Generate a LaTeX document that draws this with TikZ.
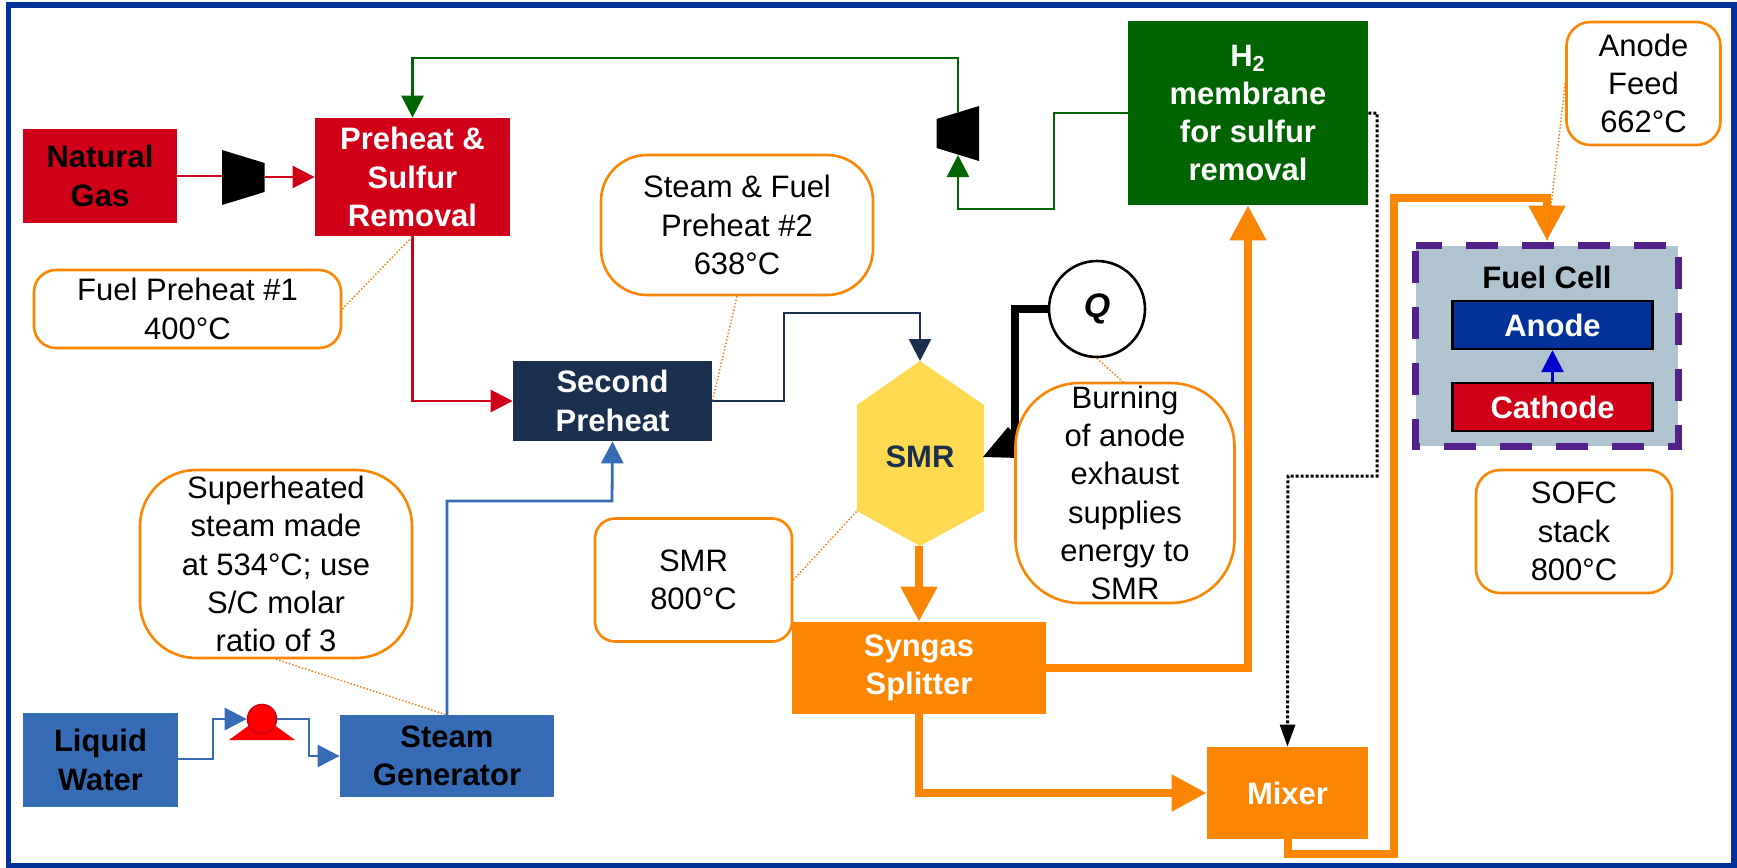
\documentclass[tikz,border=0pt]{standalone}
\usepackage{fontspec}
\setmainfont{Liberation Sans}
\usetikzlibrary{arrows.meta}

\definecolor{framecol}{HTML}{03339A}
\definecolor{redcol}{HTML}{D00019}
\definecolor{greencol}{HTML}{006400}
\definecolor{navycol}{HTML}{1B2F4E}
\definecolor{bluecol}{HTML}{366CB5}
\definecolor{orangecol}{HTML}{FB8604}
\definecolor{yellowcol}{HTML}{FFD94F}
\definecolor{greycol}{HTML}{B0C3D1}
\definecolor{purplecol}{HTML}{54208A}

\tikzset{
    txt/.style={font=\fontsize{15.5}{19.1}\selectfont, align=center, inner sep=0pt},
    unit/.style={txt, font=\fontsize{15.5}{19.1}\selectfont\bfseries, rectangle},
    note/.style={txt, rectangle, rounded corners=#1, draw=orangecol, line width=1.3pt, fill=white, execute at begin node={\rule{0pt}{13.5pt}}},
    note/.default=10pt,
    leader/.style={draw=orangecol!85!red, line width=0.7pt, densely dotted},
    flow/.style={line width=1.4pt, -{Triangle[length=11pt,width=11pt]}},
    thickflow/.style={draw=orangecol, line width=4pt, -{Triangle[length=17.5pt,width=17.5pt]}}
}

\begin{document}
\begin{tikzpicture}[x=0.5pt,y=-0.5pt]
    \useasboundingbox (0,0) rectangle (1737,868);
    \draw[framecol, line width=2.8pt] (8.5,5) rectangle (1734,866);

    % Process units
    \node[unit, fill=redcol, minimum width=77pt, minimum height=47pt] (gas) at (100,176) {Natural\\Gas};
    \node[unit, fill=redcol, text=white, minimum width=97.5pt, minimum height=59pt] (preheat) at (412.5,177) {Preheat \&\\Sulfur\\Removal};
    \node[unit, fill=navycol, text=white, minimum width=99.5pt, minimum height=40pt] (second) at (612.5,401) {Second\\Preheat};
    \node[unit, fill=greencol, text=white, minimum width=120pt, minimum height=92pt] (membrane) at (1248,113) {H\textsubscript{2}\\membrane\\for sulfur\\removal};
    \node[unit, fill=orangecol, text=white, minimum width=127pt, minimum height=46pt] (splitter) at (919,668) {Syngas\\Splitter};
    \node[unit, fill=orangecol, text=white, minimum width=80.5pt, minimum height=46pt] (mixer) at (1287.5,793) {Mixer};
    \node[unit, fill=bluecol, minimum width=77.5pt, minimum height=47pt] (water) at (100.5,760) {Liquid\\Water};
    \node[unit, fill=bluecol, minimum width=107pt, minimum height=41pt] (generator) at (447,756) {Steam\\Generator};

    % SMR
    \fill[yellowcol] (920,361) -- (984,405) -- (984,511) -- (920,546) -- (857,511) -- (857,405) -- cycle;
    \node[txt, font=\fontsize{15.5}{19.1}\selectfont\bfseries, text=navycol] (smr) at (920,457) {SMR};
    \coordinate (smrtop) at (920,361);
    \coordinate (smrbot) at (919,546);
    \coordinate (smrleft) at (857,511);

    % Compressors
    \fill[black] (222,150) -- (264.5,163) -- (264.5,192) -- (222,205) -- cycle;
    \coordinate (compAin) at (222,176);
    \coordinate (compAout) at (264.5,177);
    \fill[black] (936.5,119) -- (979,106) -- (979,161) -- (936.5,148) -- cycle;
    \coordinate (compBtop) at (958,113);
    \coordinate (compBbot) at (958,155);

    % Pump
    \fill[red] (229,740) -- (262,716) -- (295,740) -- cycle;
    \node[circle, fill=red, draw=redcol, line width=0.8pt, minimum size=14.5pt, inner sep=0pt] (pump) at (262,719) {};

    % Heat
    \node[circle, draw=black, line width=1.3pt, fill=white, minimum size=48pt, inner sep=0pt, font=\fontsize{17}{19.1}\selectfont\bfseries\itshape] (heat) at (1097,309) {Q};
    \coordinate (heatbend) at (1015,309);
    \coordinate (heatend) at (1015,445);
    \draw[line width=4pt] (heat.west) -- (heatbend) -- (heatend);
    \fill[black] (983,457) -- (1008,427) -- (1020,440) -- (1020,458) -- cycle;

    % Streams
    \draw[flow, greencol] (membrane.west) -- (1054,113) -- (1054,209) -- (958,209) -- (compBbot);
    \draw[flow, greencol] (compBtop) -- (958,58) -- (412.5,58) -- (preheat.north);
    \draw[line width=1.4pt, redcol] (gas.east |- compAin) -- (compAin);
    \draw[flow, redcol] (compAout) -- (preheat.west);
    \draw[flow, redcol] (preheat.south) |- (second.west);
    \draw[flow, navycol] (second.east) -- (784,401) -- (784,313) -- (920,313) -- (smrtop);
    \draw[flow, bluecol] (447,715) -- (447,501) -- (612,501) -- (second.south);
    \draw[flow, bluecol] (water.east |- 0,759) -- (213,759) -- (213,719) -- (pump.west);
    \draw[flow, bluecol] (pump.east) -- (309,719) -- (309,756) -- (generator.west);
    \draw[thickflow] (smrbot) -- (splitter.north);
    \draw[thickflow] (splitter.east) -- (1248,668) -- (membrane.south);
    \draw[thickflow] (splitter.south) |- (mixer.west);
    \draw[line width=1.5pt, densely dotted, -{Triangle[length=11pt,width=7.5pt]}] (membrane.east) -- (1377,113) -- (1377,476) -- (1288,476) -- (mixer.north);

    % Fuel cell
    \node[rectangle, fill=greycol, minimum width=131pt, minimum height=100pt, inner sep=0pt] (cell) at (1547,346) {};
    \draw[purplecol, line width=3.7pt, dash pattern=on 16pt off 12pt, dash phase=3pt] (cell.north west) -- (cell.north east) -- (cell.south east) -- (cell.south west) -- cycle;
    \node[txt, font=\fontsize{15.5}{19.1}\selectfont\bfseries] (celltitle) at (1547,277) {Fuel Cell};
    \node[unit, fill=framecol, text=white, draw=black, line width=1.2pt, minimum width=100pt, minimum height=24pt] (anode) at (1552.5,325) {Anode};
    \node[unit, fill=redcol, text=white, draw=black, line width=1.2pt, minimum width=100pt, minimum height=24pt] (cathode) at (1552.5,407) {Cathode};
    \draw[flow, draw=blue!80!black, fill=blue!80!black] (cathode.north) -- (anode.south);
    \draw[thickflow, shorten >=2.5pt] (mixer.south) -- (1287.5,854) -- (1393.5,854) -- (1393.5,198) -- (1547,198) -- (cell.north);

    % Notes
    \node[note=11pt, minimum width=153.5pt, minimum height=39pt] (note1) at (187.5,309) {Fuel Preheat \#1\\400°C};
    \node[note=23pt, minimum width=136pt, minimum height=70pt] (note2) at (737,225) {Steam \& Fuel\\Preheat \#2\\638°C};
    \node[note=28pt, minimum width=136pt, minimum height=94pt] (note3) at (276,564) {Superheated\\steam made\\at 534°C; use\\S/C molar\\ratio of 3};
    \node[note=10pt, minimum width=98.5pt, minimum height=61.5pt] (note4) at (693.5,580) {SMR\\800°C};
    \node[note=32pt, minimum width=109.5pt, minimum height=110pt] (note5) at (1125,493) {Burning\\of anode\\exhaust\\supplies\\energy to\\SMR};
    \node[note=12pt, minimum width=77pt, minimum height=61.5pt] (note6) at (1643.5,83.5) {Anode\\Feed\\662°C};
    \node[note=12pt, minimum width=98pt, minimum height=61.5pt] (note7) at (1574,531.5) {SOFC\\stack\\800°C};

    % Note leaders
    \draw[leader] (note1.east) -- (preheat.south);
    \draw[leader] (note2.south) -- (second.east);
    \draw[leader] (note3.south) -- (447,715);
    \draw[leader] (note4.east) -- (smrleft);
    \draw[leader] (heat.south) -- (1124,383);
    \draw[leader] (note6.west) -- (1547,241);
\end{tikzpicture}
\end{document}
